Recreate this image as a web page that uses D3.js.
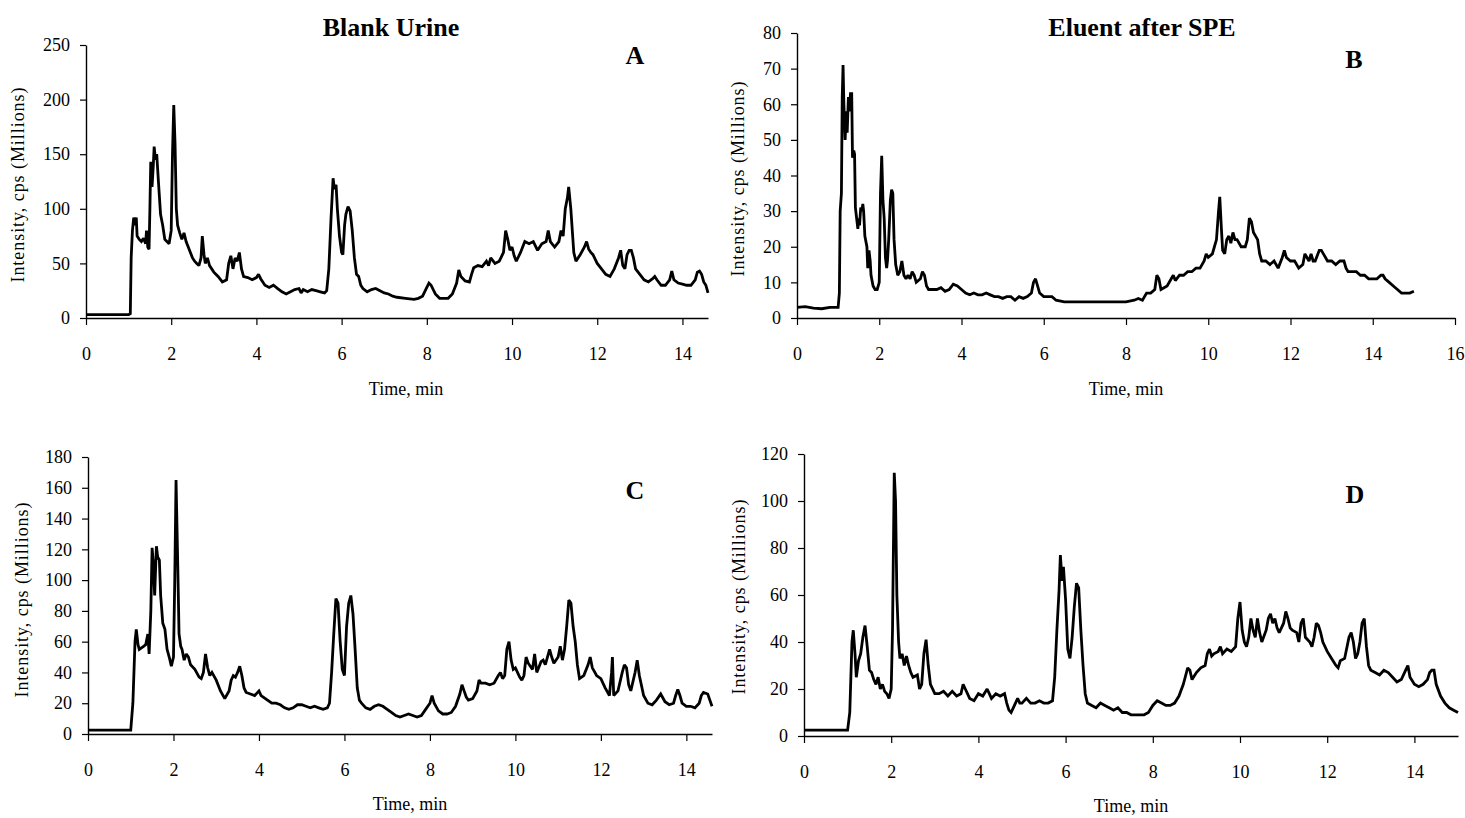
<!DOCTYPE html>
<html>
<head>
<meta charset="utf-8">
<script src="https://cdn.jsdelivr.net/npm/d3@7"></script>
<style>
  html, body { margin: 0; padding: 0; background: #fff; }
  svg { display: block; }
  text { font-family: "Liberation Serif", "Times New Roman", serif; fill: #000; }
</style>
</head>
<body>
<svg id="chart" width="1465" height="818"></svg>
<script>
// ---- Data (time in min, intensity in millions cps) ----
const seriesA = [
 [0,3],[0.2,3],[0.4,3],[0.6,3],[0.8,3],[1.0,3],[1.04,4],[1.06,55],[1.09,80],[1.12,92],[1.15,85],[1.18,92],[1.2,75],[1.25,72],[1.3,70],[1.35,73],[1.4,68],[1.42,80],[1.45,65],[1.48,63],[1.5,100],[1.52,143],[1.55,120],[1.58,140],[1.6,157],[1.63,145],[1.66,150],[1.7,125],[1.75,95],[1.8,85],[1.85,72],[1.9,70],[1.95,68],[2.0,80],[2.03,150],[2.06,195],[2.09,160],[2.12,100],[2.15,85],[2.2,78],[2.25,72],[2.3,78],[2.35,70],[2.4,65],[2.45,60],[2.5,55],[2.55,52],[2.6,50],[2.65,48],[2.7,55],[2.73,75],[2.77,58],[2.8,50],[2.85,55],[2.9,48],[3.0,42],[3.1,38],[3.2,33],[3.3,35],[3.35,50],[3.4,57],[3.45,45],[3.5,55],[3.55,52],[3.6,60],[3.65,45],[3.7,38],[3.8,37],[3.9,35],[4.0,37],[4.05,40],[4.1,36],[4.2,30],[4.3,28],[4.4,30],[4.5,27],[4.6,24],[4.7,22],[4.8,24],[4.9,26],[5.0,27],[5.05,23],[5.1,26],[5.2,24],[5.3,26],[5.4,25],[5.5,24],[5.6,23],[5.65,25],[5.7,45],[5.75,90],[5.8,128],[5.83,118],[5.87,122],[5.9,100],[5.95,75],[6.0,60],[6.03,58],[6.07,85],[6.1,95],[6.15,102],[6.2,98],[6.25,80],[6.3,55],[6.35,40],[6.4,38],[6.45,30],[6.5,27],[6.6,24],[6.7,26],[6.8,27],[6.9,25],[7.0,23],[7.1,22],[7.2,20],[7.3,19],[7.5,18],[7.7,17],[7.8,18],[7.9,20],[8.0,28],[8.05,32],[8.1,30],[8.2,22],[8.3,18],[8.4,18],[8.5,18],[8.6,22],[8.7,32],[8.75,44],[8.8,38],[8.9,34],[9.0,33],[9.05,40],[9.1,46],[9.2,48],[9.3,47],[9.4,52],[9.45,48],[9.5,55],[9.6,50],[9.7,52],[9.8,60],[9.85,80],[9.9,72],[9.95,62],[10.0,65],[10.05,57],[10.1,52],[10.2,60],[10.3,70],[10.4,68],[10.5,70],[10.6,62],[10.7,68],[10.8,70],[10.85,80],[10.9,70],[11.0,65],[11.1,70],[11.15,80],[11.2,75],[11.25,100],[11.3,110],[11.33,120],[11.38,100],[11.45,60],[11.5,52],[11.6,58],[11.7,65],[11.75,70],[11.8,63],[11.85,60],[11.9,58],[12.0,50],[12.1,45],[12.2,40],[12.3,38],[12.4,45],[12.5,55],[12.55,62],[12.6,48],[12.65,45],[12.7,58],[12.75,62],[12.8,62],[12.85,55],[12.9,45],[13.0,40],[13.1,35],[13.2,33],[13.3,36],[13.35,38],[13.4,35],[13.5,30],[13.6,30],[13.7,35],[13.75,43],[13.8,35],[13.9,32],[14.0,31],[14.1,30],[14.2,30],[14.3,35],[14.35,42],[14.4,43],[14.45,40],[14.5,33],[14.55,30],[14.6,23]
];
const seriesB = [
 [0,3],[0.2,3.2],[0.4,2.8],[0.6,2.6],[0.8,3],[1.0,3],[1.03,7],[1.05,30],[1.08,35],[1.1,62],[1.12,71],[1.14,60],[1.17,50],[1.2,58],[1.22,52],[1.25,62],[1.28,58],[1.3,63],[1.33,63],[1.35,45],[1.38,47],[1.4,46],[1.42,31],[1.45,28],[1.48,25],[1.5,28],[1.52,26],[1.55,31],[1.58,30],[1.6,32],[1.62,30],[1.65,23],[1.7,20],[1.72,14],[1.75,19],[1.78,16],[1.8,12],[1.85,9],[1.9,8],[1.95,8],[2.0,10],[2.03,35],[2.06,45.5],[2.09,33],[2.12,28],[2.15,17],[2.18,14],[2.2,16],[2.23,22],[2.27,33],[2.3,36],[2.33,35],[2.36,22],[2.4,15],[2.45,12],[2.5,13],[2.55,16],[2.6,12],[2.65,11],[2.7,12],[2.75,11],[2.8,13],[2.85,12],[2.9,10],[3.0,11],[3.05,13],[3.1,12],[3.15,9],[3.2,8],[3.3,8],[3.4,8],[3.5,8.5],[3.6,7.5],[3.7,8],[3.8,9.5],[3.9,9],[4.0,8],[4.1,7],[4.2,6.5],[4.3,7],[4.4,6.5],[4.5,6.5],[4.6,7],[4.7,6.5],[4.8,6],[4.9,6],[5.0,5.5],[5.1,6],[5.2,6],[5.3,5],[5.4,6],[5.5,5.5],[5.6,6],[5.7,7],[5.75,10],[5.8,11],[5.85,9],[5.9,7],[6.0,6],[6.1,6],[6.2,6],[6.3,5],[6.5,4.5],[6.7,4.5],[7.0,4.5],[7.2,4.5],[7.5,4.5],[7.8,4.5],[8.0,4.5],[8.2,5],[8.3,5.5],[8.4,5],[8.5,7],[8.6,7],[8.7,8],[8.75,12],[8.8,11],[8.85,8],[9.0,9],[9.1,11],[9.15,12],[9.2,10.5],[9.3,12],[9.4,12],[9.5,13],[9.6,13],[9.7,14],[9.8,14],[9.9,16],[9.95,18],[10.0,17],[10.1,18],[10.15,20],[10.2,22],[10.25,30],[10.28,34],[10.32,25],[10.35,19],[10.4,18],[10.45,22],[10.5,23],[10.55,21],[10.6,24],[10.65,22],[10.7,22],[10.8,20],[10.9,20],[10.95,22],[11.0,28],[11.05,27],[11.1,24],[11.2,22],[11.25,18],[11.3,16],[11.4,16],[11.5,15],[11.6,16],[11.7,14],[11.8,17],[11.85,19],[11.9,17],[12.0,16],[12.1,16],[12.2,14],[12.3,15],[12.35,18],[12.4,17],[12.45,16],[12.5,18],[12.55,16],[12.6,16],[12.7,19],[12.75,19],[12.8,18],[12.9,16],[13.0,16],[13.1,15],[13.2,16],[13.3,16],[13.35,14],[13.4,13],[13.5,13],[13.6,13],[13.7,12],[13.8,12],[13.9,11],[14.0,11],[14.1,11],[14.2,12],[14.25,12],[14.3,11],[14.4,10],[14.5,9],[14.6,8],[14.7,7],[14.8,7],[14.9,7],[15.0,7.5]
];
const seriesC = [
 [0,2.5],[0.2,2.5],[0.4,2.5],[0.6,2.5],[0.8,2.5],[1.0,2.5],[1.05,20],[1.1,60],[1.13,68],[1.17,58],[1.2,55],[1.3,57],[1.35,58],[1.4,65],[1.43,52],[1.47,80],[1.5,121],[1.53,110],[1.56,90],[1.6,122],[1.63,115],[1.67,113],[1.7,90],[1.75,72],[1.8,68],[1.85,55],[1.9,50],[1.95,44],[2.0,50],[2.03,100],[2.06,165],[2.1,110],[2.13,65],[2.17,57],[2.2,55],[2.25,48],[2.3,52],[2.35,50],[2.4,45],[2.5,42],[2.6,37],[2.65,36],[2.7,40],[2.75,52],[2.8,43],[2.85,38],[2.9,40],[3.0,35],[3.1,28],[3.2,23],[3.3,28],[3.35,35],[3.4,38],[3.45,37],[3.5,40],[3.55,44],[3.6,38],[3.65,30],[3.7,27],[3.8,26],[3.9,25],[4.0,28],[4.05,25],[4.1,24],[4.2,22],[4.3,20],[4.4,20],[4.5,19],[4.6,17],[4.7,16],[4.8,17],[4.9,19],[5.0,19],[5.1,18],[5.2,17],[5.3,18],[5.4,17],[5.5,16],[5.6,17],[5.65,20],[5.7,40],[5.75,65],[5.8,88],[5.85,85],[5.9,60],[5.95,42],[6.0,38],[6.05,70],[6.1,85],[6.15,90],[6.2,78],[6.25,55],[6.3,30],[6.35,22],[6.4,20],[6.5,17],[6.6,16],[6.7,18],[6.8,19],[6.9,18],[7.0,16],[7.1,14],[7.2,12],[7.3,11],[7.4,12],[7.5,13],[7.6,12],[7.7,11],[7.8,12],[7.9,16],[8.0,20],[8.05,25],[8.1,20],[8.2,15],[8.3,13],[8.4,13],[8.5,14],[8.6,18],[8.7,26],[8.75,32],[8.8,28],[8.85,24],[8.9,22],[9.0,23],[9.1,28],[9.15,35],[9.2,33],[9.3,33],[9.4,32],[9.5,33],[9.6,38],[9.65,40],[9.7,36],[9.75,38],[9.8,55],[9.85,60],[9.9,48],[9.95,42],[10.0,43],[10.1,37],[10.15,35],[10.2,38],[10.25,50],[10.3,46],[10.4,42],[10.45,52],[10.5,40],[10.6,47],[10.65,48],[10.7,45],[10.75,50],[10.8,55],[10.85,50],[10.9,46],[11.0,50],[11.05,57],[11.1,48],[11.15,55],[11.2,70],[11.25,87],[11.3,85],[11.35,70],[11.4,60],[11.45,45],[11.5,36],[11.6,38],[11.7,45],[11.75,50],[11.8,43],[11.9,38],[12.0,36],[12.1,30],[12.2,25],[12.25,40],[12.27,50],[12.3,25],[12.4,28],[12.5,40],[12.55,45],[12.6,43],[12.65,32],[12.7,28],[12.8,40],[12.85,48],[12.9,38],[13.0,25],[13.1,20],[13.2,19],[13.3,22],[13.4,26],[13.5,21],[13.6,19],[13.7,20],[13.75,25],[13.8,29],[13.85,25],[13.9,20],[14.0,18],[14.1,18],[14.2,17],[14.3,20],[14.35,25],[14.4,27],[14.5,26],[14.55,22],[14.6,18]
];
const seriesD = [
 [0,2.5],[0.2,2.5],[0.4,2.5],[0.6,2.5],[0.8,2.5],[1.0,2.5],[1.05,10],[1.1,40],[1.13,45],[1.17,35],[1.2,25],[1.25,32],[1.3,35],[1.35,42],[1.4,47],[1.45,38],[1.5,28],[1.55,27],[1.6,24],[1.65,22],[1.7,25],[1.75,20],[1.8,22],[1.85,19],[1.9,18],[1.95,16],[2.0,20],[2.03,45],[2.07,112],[2.1,100],[2.13,60],[2.17,40],[2.2,33],[2.25,35],[2.3,30],[2.35,34],[2.4,30],[2.45,27],[2.5,25],[2.6,26],[2.65,20],[2.7,22],[2.75,35],[2.8,41],[2.85,30],[2.9,22],[3.0,18],[3.1,18],[3.2,19],[3.3,17],[3.4,19],[3.5,17],[3.6,18],[3.65,22],[3.7,20],[3.8,16],[3.9,15],[4.0,18],[4.1,17],[4.2,20],[4.25,18],[4.3,16],[4.4,18],[4.5,17],[4.6,18],[4.65,14],[4.7,11],[4.75,10],[4.8,12],[4.9,16],[4.95,14],[5.0,14],[5.1,16],[5.2,14],[5.3,14],[5.4,15],[5.5,14],[5.6,14],[5.7,15],[5.75,25],[5.8,45],[5.85,62],[5.88,77],[5.92,66],[5.95,72],[6.0,58],[6.05,37],[6.1,33],[6.15,42],[6.2,55],[6.25,65],[6.3,63],[6.35,45],[6.4,30],[6.45,18],[6.5,14],[6.6,13],[6.7,12],[6.8,14],[6.9,13],[7.0,12],[7.1,11],[7.2,12],[7.3,10],[7.4,10],[7.5,9],[7.6,9],[7.7,9],[7.8,9],[7.9,10],[8.0,13],[8.1,15],[8.2,14],[8.3,13],[8.4,13],[8.5,14],[8.6,17],[8.7,22],[8.8,29],[8.85,28],[8.9,24],[9.0,27],[9.1,29],[9.2,30],[9.25,35],[9.3,37],[9.35,34],[9.4,35],[9.5,36],[9.55,38],[9.6,35],[9.7,37],[9.8,36],[9.9,38],[9.95,50],[10.0,57],[10.05,45],[10.1,40],[10.15,38],[10.2,42],[10.25,50],[10.3,45],[10.35,42],[10.4,50],[10.45,44],[10.5,40],[10.6,45],[10.65,50],[10.7,52],[10.75,48],[10.8,50],[10.85,46],[10.9,44],[11.0,48],[11.05,53],[11.1,50],[11.15,46],[11.2,45],[11.3,44],[11.35,40],[11.4,48],[11.45,50],[11.5,42],[11.6,40],[11.65,38],[11.7,42],[11.75,48],[11.8,47],[11.85,44],[11.9,40],[12.0,36],[12.1,33],[12.2,30],[12.25,29],[12.3,32],[12.4,33],[12.5,42],[12.55,44],[12.6,40],[12.65,33],[12.7,35],[12.75,40],[12.8,48],[12.85,50],[12.9,38],[12.95,30],[13.0,28],[13.1,27],[13.2,26],[13.3,28],[13.4,27],[13.5,25],[13.6,23],[13.7,24],[13.8,28],[13.85,30],[13.9,25],[14.0,22],[14.1,21],[14.2,22],[14.3,24],[14.35,27],[14.4,28],[14.45,28],[14.5,22],[14.6,17],[14.7,14],[14.8,12],[14.9,11],[15.0,10]
];

const xTicksA = [0,2,4,6,8,10,12,14];
const xTicksB = [0,2,4,6,8,10,12,14,16];
const yTicksA = [0,50,100,150,200,250];
const yTicksB = [0,10,20,30,40,50,60,70,80];
const yTicksC = [0,20,40,60,80,100,120,140,160,180];
const yTicksD = [0,20,40,60,80,100,120];
const titles = ["Blank Urine", "Eluent after SPE"];
const letters = ["A", "B", "C", "D"];
const xLabel = "Time, min";
const yLabel = "Intensity, cps (Millions)";

// ---- Layout ----
const panels = [
  {data: seriesA, xMax: 14.6, xTicks: xTicksA, yTicks: yTicksA, left: 86, right: 708, top: 45, bottom: 318,
   letter: letters[0], letterX: 635, letterY: 64, xLabX: 406, xLabY: 395, yLabX: 24, yLabY: 185},
  {data: seriesB, xMax: 16, xTicks: xTicksB, yTicks: yTicksB, left: 797, right: 1455, top: 33, bottom: 318,
   letter: letters[1], letterX: 1354, letterY: 68, xLabX: 1126, xLabY: 395, yLabX: 744, yLabY: 179},
  {data: seriesC, xMax: 14.6, xTicks: xTicksA, yTicks: yTicksC, left: 88, right: 712, top: 457, bottom: 734,
   letter: letters[2], letterX: 635, letterY: 499, xLabX: 410, xLabY: 810, yLabX: 28, yLabY: 600},
  {data: seriesD, xMax: 15, xTicks: xTicksA, yTicks: yTicksD, left: 804, right: 1458, top: 454, bottom: 736,
   letter: letters[3], letterX: 1355, letterY: 503, xLabX: 1131, xLabY: 812, yLabX: 745, yLabY: 597}
];

const svg = d3.select("#chart");

svg.append("text").attr("x", 391).attr("y", 36).attr("text-anchor", "middle")
  .attr("font-size", 26).attr("font-weight", "bold").text(titles[0]);
svg.append("text").attr("x", 1142).attr("y", 36).attr("text-anchor", "middle")
  .attr("font-size", 26).attr("font-weight", "bold").text(titles[1]);

panels.forEach(p => {
  const x = d3.scaleLinear().domain([0, p.xMax]).range([p.left, p.right]);
  const yMax = p.yTicks[p.yTicks.length - 1];
  const y = d3.scaleLinear().domain([0, yMax]).range([p.bottom, p.top]);
  const g = svg.append("g");

  const xAxis = g.append("g").attr("transform", `translate(0,${p.bottom})`)
    .call(d3.axisBottom(x).tickValues(p.xTicks).tickFormat(d3.format("d")).tickSize(7).tickSizeOuter(0).tickPadding(22));
  const yAxis = g.append("g").attr("transform", `translate(${p.left},0)`)
    .call(d3.axisLeft(y).tickValues(p.yTicks).tickFormat(d3.format("d")).tickSize(6).tickSizeOuter(0).tickPadding(10));
  [xAxis, yAxis].forEach(a => {
    a.select(".domain").attr("stroke", "#000").attr("stroke-width", 1.4);
    a.selectAll(".tick line").attr("stroke", "#000").attr("stroke-width", 1.2);
    a.selectAll(".tick text").attr("font-family", "'Liberation Serif', 'Times New Roman', serif")
      .attr("font-size", 18).attr("fill", "#000");
  });

  const line = d3.line().x(d => x(d[0])).y(d => y(d[1]));
  g.append("path").datum(p.data).attr("d", line)
    .attr("fill", "none").attr("stroke", "#000").attr("stroke-width", 2.8)
    .attr("stroke-linejoin", "miter").attr("stroke-miterlimit", 2);

  g.append("text").attr("x", p.letterX).attr("y", p.letterY).attr("text-anchor", "middle")
    .attr("font-size", 26).attr("font-weight", "bold").text(p.letter);
  g.append("text").attr("x", p.xLabX).attr("y", p.xLabY).attr("text-anchor", "middle")
    .attr("font-size", 18).text(xLabel);
  g.append("text").attr("transform", `translate(${p.yLabX},${p.yLabY}) rotate(-90)`)
    .attr("text-anchor", "middle").attr("font-size", 18).attr("textLength", 195)
    .attr("lengthAdjust", "spacing").text(yLabel);
});
</script>
</body>
</html>
